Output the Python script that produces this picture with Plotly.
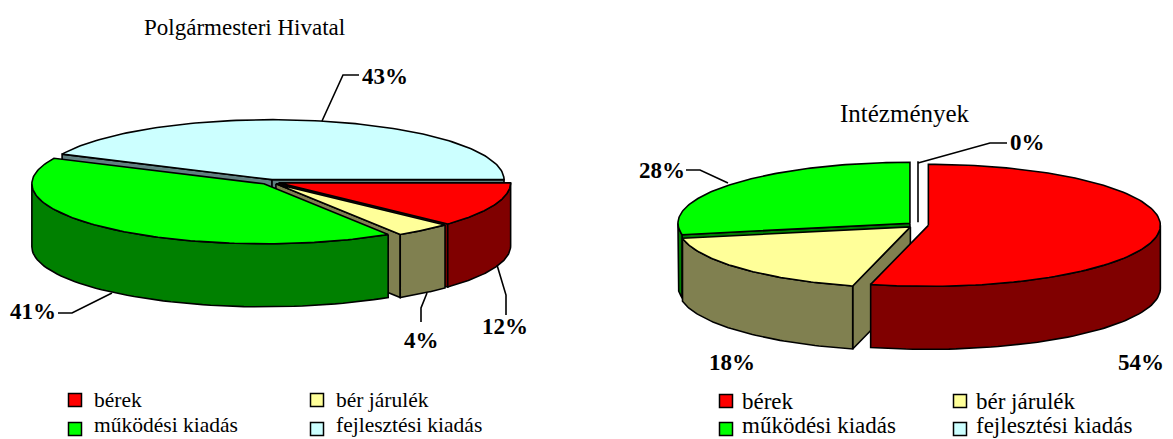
import numpy as np
import plotly.graph_objects as go

# adatok
categories = ["bérek", "bér járulék", "működési kiadás", "fejlesztési kiadás"]
hivatal_values = [12, 4, 41, 43]
intezmeny_values = [54, 18, 28, 0]
hivatal_title = "Polgármesteri Hivatal"
intezmeny_title = "Intézmények"

top_colors = ["#FF0000", "#FFFF99", "#00FF00", "#CCFFFF"]
side_colors = ["#800000", "#808050", "#008000", "#608080"]

RX, RY, DEPTH = 232, 60, 63
LINE = 1.6
FONT = "Liberation Serif"

fig = go.Figure()


def poly(xs, ys, color):
    fig.add_trace(go.Scatter(x=xs, y=ys, mode="lines", fill="toself", fillcolor=color,
                             line=dict(color="black", width=LINE), hoverinfo="skip",
                             showlegend=False))


def draw_pie(values, cx, cy, rx, ry, start, explode, order):
    total = sum(values)
    angles = start + np.cumsum([0] + values) * 360 / total
    for i in order:
        t0, t1 = angles[i], angles[i + 1]
        mid = np.radians((t0 + t1) / 2)
        ax = cx + explode * rx * np.cos(mid)
        ay = cy + explode * ry * np.sin(mid)
        if t1 > t0:
            # sugár irányú oldallapok
            for t, visible in ((t0, np.cos(np.radians(t0)) < -1e-6), (t1, np.cos(np.radians(t1)) > 1e-6)):
                if visible:
                    ex = ax + rx * np.cos(np.radians(t))
                    ey = ay + ry * np.sin(np.radians(t))
                    poly([ax, ex, ex, ax, ax], [ay, ey, ey + DEPTH, ay + DEPTH, ay], side_colors[i])
            # külső fal, csak az elülső félen
            for shift in (-360, 0, 360):
                w0, w1 = max(t0 + shift, 0), min(t1 + shift, 180)
                if w1 > w0:
                    w = np.radians(np.linspace(w0, w1, 60))
                    wx = ax + rx * np.cos(w)
                    wy = ay + ry * np.sin(w)
                    poly(np.r_[wx, wx[::-1], wx[0]], np.r_[wy, wy[::-1] + DEPTH, wy[0]], side_colors[i])
        # felső lap
        arc = np.radians(np.linspace(t0, t1, 120))
        poly(np.r_[ax, ax + rx * np.cos(arc), ax], np.r_[ay, ay + ry * np.sin(arc), ay], top_colors[i])


def leader(xs, ys):
    fig.add_trace(go.Scatter(x=xs, y=ys, mode="lines", line=dict(color="black", width=LINE),
                             hoverinfo="skip", showlegend=False))


def label(x, y, text, size=23, bold=False, anchor="center"):
    fig.add_annotation(x=x, y=y, text=f"<b>{text}</b>" if bold else text, showarrow=False,
                       xanchor=anchor, yanchor="middle", xref="x", yref="y",
                       font=dict(family=FONT, size=size, color="black"))


def draw_legend(x1, x2, y1, y2, size, gap):
    spots = [(x1, y1), (x2, y1), (x1, y2), (x2, y2)]
    for (x, y), name, color in zip(spots, categories, top_colors):
        fig.add_trace(go.Scatter(x=[x], y=[y], mode="markers", hoverinfo="skip", showlegend=False,
                                 marker=dict(symbol="square", size=13, color=color,
                                             line=dict(color="black", width=1.5))))
        # az alsó sor szövege ne lógjon ki a képből
        label(x + gap, min(y, 425), name, size=size, anchor="left")


# bal oldali kör
draw_pie(hivatal_values, 270, 182, RX, RY, 0, 0.04, [3, 0, 1, 2])
leader([322, 343, 359], [121, 75, 75])
leader([497, 506, 506], [265, 295, 315])
leader([427, 421, 421], [293, 308, 322])
leader([112, 72, 58], [293, 313, 313])
label(244, 27, hivatal_title, size=23)
label(385, 76, f"{hivatal_values[3]}%", bold=True)
label(505, 326, f"{hivatal_values[0]}%", bold=True)
label(421, 340, f"{hivatal_values[1]}%", bold=True)
label(33, 311, f"{hivatal_values[2]}%", bold=True)
draw_legend(75, 317, 400, 429, 21.5, 17)

# jobb oldali kör
draw_pie(intezmeny_values, 918, 225, RX, 61, -90, 0.045, [3, 2, 1, 0])
leader([728, 700, 686], [183, 170, 170])
leader([918, 990, 1007], [163, 143, 143])
label(905, 113, intezmeny_title, size=25)
label(662, 170, f"{intezmeny_values[2]}%", bold=True)
label(1027, 142, f"{intezmeny_values[3]}%", bold=True)
label(732, 362, f"{intezmeny_values[1]}%", bold=True)
label(1141, 362, f"{intezmeny_values[0]}%", bold=True)
draw_legend(726, 960, 401, 429, 23, 14)

fig.update_xaxes(range=[0, 1173], visible=False, fixedrange=True)
fig.update_yaxes(range=[439, 0], visible=False, fixedrange=True)
fig.update_layout(width=1173, height=439, margin=dict(l=0, r=0, t=0, b=0),
                  paper_bgcolor="white", plot_bgcolor="white", showlegend=False)

fig.write_html("out.html", config={"displayModeBar": False},
               post_script="document.body.style.margin='0';document.body.style.overflow='hidden';")
